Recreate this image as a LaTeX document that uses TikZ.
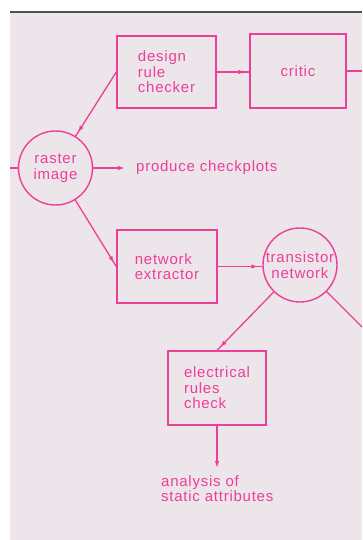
\documentclass[tikz,border=0pt]{standalone}
\usepackage{fontspec}
\setmainfont{Liberation Sans}[LetterSpace=5]
\usetikzlibrary{arrows.meta,decorations.markings}
\definecolor{ink}{RGB}{238,62,152}
\definecolor{paper}{RGB}{236,230,234}
\definecolor{rule}{RGB}{80,80,80}
\tikzset{
  box/.style={draw=ink, line width=1.4pt, rectangle, align=left, inner sep=0pt},
  circ/.style={draw=ink, line width=1.4pt, circle, align=center, inner sep=0pt, minimum size=74pt},
  txt/.style={align=left, inner sep=0pt},
  conn/.style={draw=ink, line width=1.3pt},
  midtip/.style={conn, postaction={decorate},
    decoration={markings, mark=at position -4pt with {\arrow[ink]{Latex[length=7pt,width=4.5pt]}}}},
  endtip/.style={conn, -{Latex[length=7pt,width=4.5pt]}},
  every node/.style={text=ink, font=\fontsize{15}{15.5}\selectfont}
}
\begin{document}
\begin{tikzpicture}[x=1pt,y=-1pt]
\useasboundingbox (0,0) rectangle (362,540);
\fill[white] (0,0) rectangle (362,540);
\fill[paper] (10,13) rectangle (362,540);
\draw[rule, line width=2pt] (10,12) -- (362,12);

\node[box, minimum width=99pt, minimum height=72pt] (drc) at (166.5,72) {design\\rule\\checker};
\node[box, minimum width=96pt, minimum height=74pt] (critic) at (298,71) {critic};
\node[circ] (raster) at (55.5,168) {raster\\image};
\node[txt, anchor=west] (cp) at (136,168) {produce checkplots};
\node[box, minimum width=100pt, minimum height=73pt] (ne) at (167,266.5) {network\\extractor};
\node[circ] (tn) at (300,265) {transistor\\network};
\node[box, minimum width=98pt, minimum height=74pt] (erc) at (217,388) {electrical\\rules\\check};
\node[txt, anchor=north west] (an) at (161,475) {analysis of\\static attributes};

\coordinate (leftin) at (10,168);
\coordinate (critout) at (362,71);
\coordinate (tnout) at (362,327);
\coordinate (cpend) at (125,168);
\coordinate (anend) at (217,468);

\draw[conn] (leftin) -- (raster);
\draw[midtip] (drc.west) -- (raster);
\draw[midtip] (drc.east) -- (drc.east -| critic.west);
\draw[conn] (critic.east) -- (critout);
\draw[endtip] (raster) -- (cpend);
\draw[midtip] (raster) -- (ne.west);
\draw[midtip] (ne.east) -- (ne.east -| tn.west);
\draw[midtip] (tn) -- (erc.north);
\draw[conn] (tn) -- (tnout);
\draw[endtip] (erc.south) -- (anend);
\end{tikzpicture}
\end{document}
